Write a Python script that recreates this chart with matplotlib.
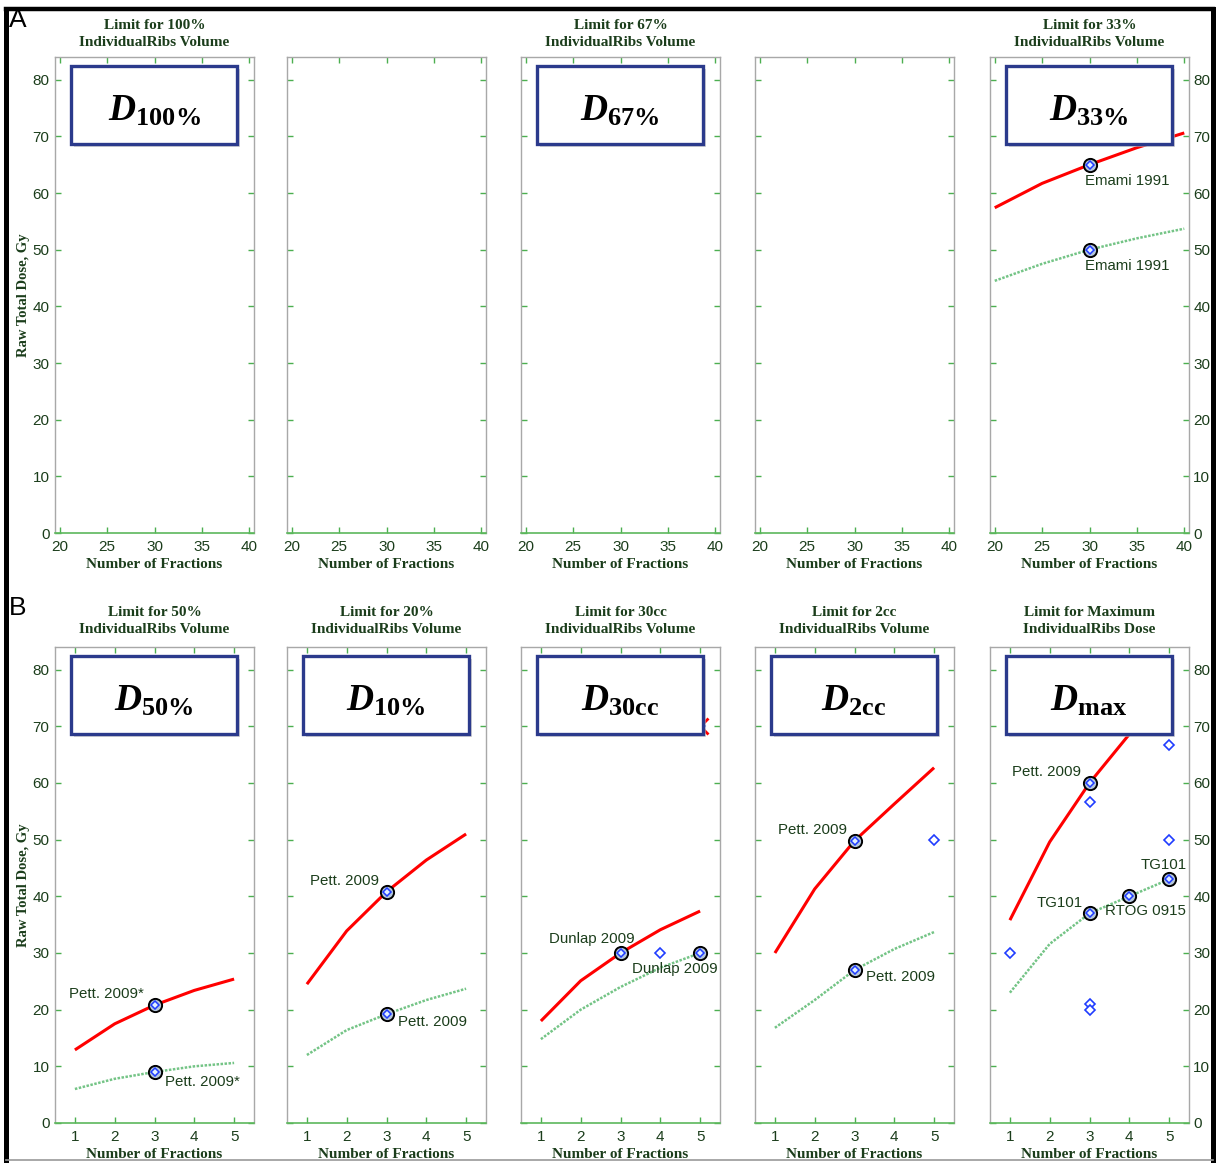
import matplotlib
matplotlib.use("Agg")
import matplotlib.pyplot as plt
from matplotlib.patches import Rectangle
from matplotlib.lines import Line2D
from matplotlib.transforms import offset_copy

plt.rcParams["mathtext.fontset"] = "custom"
plt.rcParams["mathtext.rm"] = "Liberation Serif"
plt.rcParams["mathtext.bf"] = "Liberation Serif:bold"
plt.rcParams["mathtext.it"] = "Liberation Serif:italic"
plt.rcParams["mathtext.bfit"] = "Liberation Serif:bold:italic"

# ---------------- data ----------------
fractions_a = [20, 25, 30, 35, 40]
fractions_b = [1, 2, 3, 4, 5]
ticks_y = [0, 10, 20, 30, 40, 50, 60, 70, 80]

titles_a = ["Limit for 100%\nIndividualRibs Volume", "", "Limit for 67%\nIndividualRibs Volume",
            "", "Limit for 33%\nIndividualRibs Volume"]
boxes_a = [("D", "100\\%"), None, ("D", "67\\%"), None, ("D", "33\\%")]

titles_b = ["Limit for 50%\nIndividualRibs Volume", "Limit for 20%\nIndividualRibs Volume",
            "Limit for 30cc\nIndividualRibs Volume", "Limit for 2cc\nIndividualRibs Volume",
            "Limit for Maximum\nIndividualRibs Dose"]
boxes_b = [("D", "50\\%"), ("D", "10\\%"), ("D", "30cc"), ("D", "2cc"), ("D", "max")]

# limit curves (upper: red, lower: green dotted)
d33_red = [57.4, 61.7, 65.0, 68.0, 70.6]
d33_green = [44.5, 47.5, 50.0, 52.0, 53.7]

d50_red = [12.9, 17.5, 20.8, 23.4, 25.4]
d50_green = [6.0, 7.8, 9.0, 10.0, 10.6]
d10_red = [24.5, 33.9, 40.8, 46.4, 51.0]
d10_green = [12.0, 16.4, 19.2, 21.7, 23.7]
d30cc_red = [18.0, 25.1, 30.0, 34.1, 37.4]
d30cc_green = [14.8, 20.0, 24.0, 27.4, 30.0]
d2cc_red = [30.0, 41.3, 49.8, 56.3, 62.7]
d2cc_green = [16.8, 21.7, 27.0, 30.7, 33.7]
dmax_red = [35.8, 49.6, 60.0, 68.6, 76.0]
dmax_green = [23.0, 31.6, 37.0, 40.0, 43.0]

# published limits: (fraction, dose, label, label offset in px right/down)
refs_d33 = [(30, 65.0, "Emami 1991", (38, 16)), (30, 50.0, "Emami 1991", (38, 16))]
refs_d50 = [(3, 20.8, "Pett. 2009*", (-48, -11)), (3, 9.0, "Pett. 2009*", (48, 10))]
refs_d10 = [(3, 40.8, "Pett. 2009", (-42, -11)), (3, 19.2, "Pett. 2009", (46, 8))]
refs_d30cc = [(3, 30.0, "Dunlap 2009", (-29, -14)), (5, 30.0, "Dunlap 2009", (-25, 16))]
refs_d2cc = [(3, 49.8, "Pett. 2009", (-42, -11)), (3, 27.0, "Pett. 2009", (46, 7))]
refs_dmax = [(3, 60.0, "Pett. 2009", (-43, -11)), (3, 37.0, "TG101", (-30, -10)),
             (4, 40.0, "RTOG 0915", (16, 15)), (5, 43.0, "TG101", (-5, -14))]

# other reported limits (open diamonds)
other_d30cc_x = [4, 5]
other_d30cc_y = [30.0, 70.0]
other_d2cc_x = [5]
other_d2cc_y = [50.0]
other_dmax_x = [1, 3, 3, 3, 5, 5]
other_dmax_y = [30.0, 56.7, 21.0, 20.0, 66.7, 50.0]
flag_d30cc_x = [5]
flag_d30cc_y = [70.0]

# ---------------- style ----------------
W, H, DPI = 1216, 1163, 100
RED = "#ff0000"
GREEN_LINE = "#74c486"
SPINE_GREY = "#a8a8a8"
SPINE_GREEN = "#5cb85c"
TXT = "#1b3d1b"
NAVY = "#2b3a8c"
BLUE = "#1f3cff"
PX = 72.0 / DPI

fig = plt.figure(figsize=(W / DPI, H / DPI), dpi=DPI)

lefts = [55, 287, 521, 755, 990]
ax_w = 199
row_top = {"A": 57, "B": 647}
ax_h = 476


def make_axes(left, top):
    return fig.add_axes([left / W, 1 - (top + ax_h) / H, ax_w / W, ax_h / H])


def style_axes(ax, i, xticks, xlim):
    ax.set_xlim(*xlim)
    ax.set_ylim(0, 84)
    ax.set_xticks(xticks)
    ax.set_yticks(ticks_y)
    for s in ("left", "right", "top"):
        ax.spines[s].set_color(SPINE_GREY)
        ax.spines[s].set_linewidth(1.0)
    ax.spines["bottom"].set_color(SPINE_GREEN)
    ax.spines["bottom"].set_linewidth(1.2)
    ax.tick_params(axis="both", direction="in", length=4, width=1.0, color="#4caf50",
                   labelsize=11, labelcolor=TXT, top=True, right=True)
    ax.tick_params(axis="x", pad=5)
    ax.tick_params(axis="y", pad=4 if i == 0 else 3,
                   labelleft=(i == 0), labelright=(i == 4))
    for lab in ax.get_xticklabels() + ax.get_yticklabels():
        lab.set_fontfamily("Liberation Sans")
    ax.set_xlabel("Number of Fractions", fontfamily="Liberation Serif", fontweight="bold",
                  fontsize=11, color=TXT, labelpad=3)
    if i == 0:
        ax.set_ylabel("Raw Total Dose, Gy", fontfamily="Liberation Serif", fontweight="bold",
                      fontsize=10.5, color=TXT, labelpad=2)


def set_title(ax, text, pad):
    ax.set_title(text, fontfamily="Liberation Serif", fontweight="bold",
                 fontsize=11, color=TXT, pad=pad, linespacing=1.4)


def draw_box(ax, sym, sub):
    x0, x1, y0, y1 = 0.08, 0.915, 0.818, 0.981
    shadow = Rectangle((x0, y0), x1 - x0, y1 - y0, transform=offset_copy(
        ax.transAxes, fig=fig, x=3, y=-3, units="dots"),
        facecolor="#bdbdbd", edgecolor="none", alpha=0.6, zorder=9, clip_on=False)
    ax.add_patch(shadow)
    box = Rectangle((x0, y0), x1 - x0, y1 - y0, transform=ax.transAxes,
                    facecolor="white", edgecolor=NAVY, linewidth=2.4, zorder=10, clip_on=False)
    ax.add_patch(box)
    ax.text((x0 + x1) / 2, (y0 + y1) / 2 - 0.012, r"$\mathbfit{%s}_{\mathbf{%s}}$" % (sym, sub),
            transform=ax.transAxes, ha="center", va="center", fontsize=27, color="black",
            zorder=11)


def draw_refs(ax, refs):
    for x, y, label, (dx, dy) in refs:
        ax.plot(x, y, marker="o", ms=9.5, mfc="#b4c6dc", mec="black", mew=1.4,
                linestyle="none", zorder=6)
        ax.plot(x, y, marker="D", ms=4.5, mfc="#e2f0ff", mec=BLUE, mew=1.1,
                linestyle="none", zorder=7)
        ax.annotate(label, (x, y), xytext=(dx * PX, -dy * PX), textcoords="offset points",
                    ha="center", va="center", fontsize=10.8, color=TXT,
                    fontfamily="Liberation Sans", zorder=8)


def draw_curves(ax, xs, red, green):
    ax.plot(xs, red, color=RED, linewidth=2.2, zorder=4, solid_capstyle="butt")
    ax.plot(xs, green, color=GREEN_LINE, linewidth=1.8, linestyle=(0, (1, 0.6)), zorder=3)


def draw_others(ax, xs, ys):
    ax.plot(xs, ys, marker="D", ms=5.5, mfc="white", mec=BLUE, mew=1.2,
            linestyle="none", zorder=5)


# ---------- row A ----------
axes_a = []
for i, left in enumerate(lefts):
    ax = make_axes(left, row_top["A"])
    style_axes(ax, i, [20, 25, 30, 35, 40], (19.5, 40.5))
    if titles_a[i]:
        set_title(ax, titles_a[i], pad=8)
    if boxes_a[i]:
        draw_box(ax, *boxes_a[i])
    axes_a.append(ax)

draw_curves(axes_a[4], fractions_a, d33_red, d33_green)
draw_refs(axes_a[4], refs_d33)

# ---------- row B ----------
axes_b = []
for i, left in enumerate(lefts):
    ax = make_axes(left, row_top["B"])
    style_axes(ax, i, fractions_b, (0.5, 5.5))
    set_title(ax, titles_b[i], pad=10)
    draw_box(ax, *boxes_b[i])
    axes_b.append(ax)

draw_curves(axes_b[0], fractions_b, d50_red, d50_green)
draw_refs(axes_b[0], refs_d50)

draw_curves(axes_b[1], fractions_b, d10_red, d10_green)
draw_refs(axes_b[1], refs_d10)

draw_curves(axes_b[2], fractions_b, d30cc_red, d30cc_green)
axes_b[2].plot(flag_d30cc_x, flag_d30cc_y, marker="x", ms=12, mec=RED, mew=2.0,
               linestyle="none", zorder=5, clip_on=False)
draw_others(axes_b[2], other_d30cc_x, other_d30cc_y)
draw_refs(axes_b[2], refs_d30cc)

draw_curves(axes_b[3], fractions_b, d2cc_red, d2cc_green)
draw_others(axes_b[3], other_d2cc_x, other_d2cc_y)
draw_refs(axes_b[3], refs_d2cc)

draw_curves(axes_b[4], fractions_b, dmax_red, dmax_green)
draw_others(axes_b[4], other_dmax_x, other_dmax_y)
draw_refs(axes_b[4], refs_dmax)

# panel letters and outer frame
fig.text(9 / W, 1 - 20 / H, "A", fontsize=19, fontfamily="Liberation Sans",
         ha="left", va="center", color="black")
fig.text(9 / W, 1 - 608 / H, "B", fontsize=19, fontfamily="Liberation Sans",
         ha="left", va="center", color="black")


def fig_line(x0, y0, x1, y1, color, lw):
    fig.add_artist(Line2D([x0 / W, x1 / W], [1 - y0 / H, 1 - y1 / H],
                          transform=fig.transFigure, color=color, linewidth=lw,
                          solid_capstyle="projecting"))


fig_line(6, 9, 1213, 9, "black", 3.2)
fig_line(6, 9, 6, 1160, "black", 3.6)
fig_line(1213, 9, 1213, 1160, "black", 3.6)
fig_line(6, 1160, 1213, 1160, "#9a9a9a", 1.2)

fig.savefig("out.png", dpi=DPI)
